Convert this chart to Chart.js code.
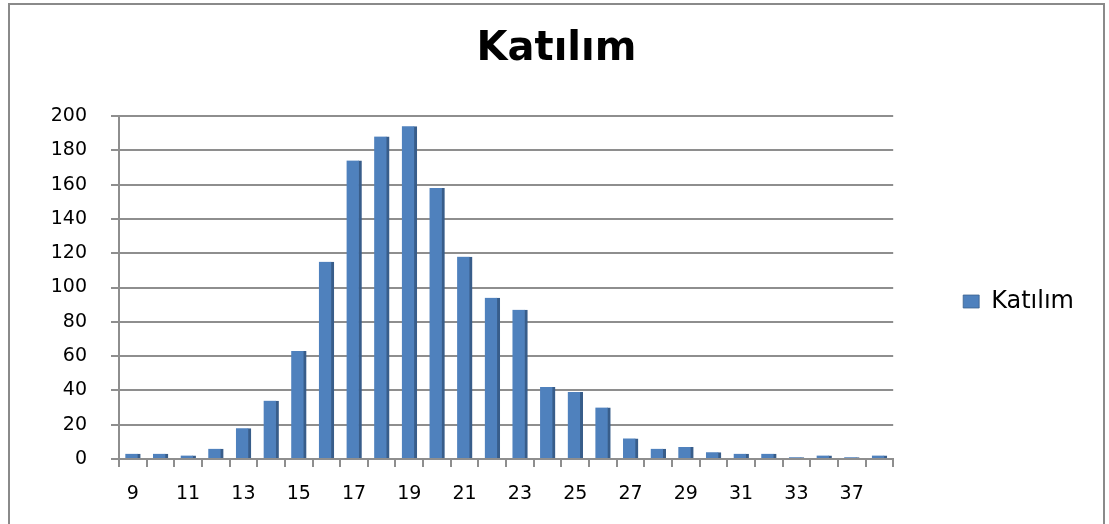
<!DOCTYPE html>
<html>
<head>
<meta charset="utf-8">
<title>Katılım</title>
<script src="https://cdn.jsdelivr.net/npm/chart.js@4/dist/chart.umd.min.js"></script>
<style>
  html, body { margin: 0; padding: 0; background: #fff; overflow: hidden; }
  #frame { position: absolute; left: 8px; top: 3px; width: 1093px; height: 530px; border: 2px solid #8a8a8a; }
  #chart { display: block; }
</style>
</head>
<body>
<div id="frame"><canvas id="chart" width="1093" height="519"></canvas></div>
<script>
// categories (only every other one is labelled on the axis)
const categories = ['9', '10', '11', '12', '13', '14', '15', '16', '17', '18', '19', '20', '21', '22',
  '23', '24', '25', '26', '27', '28', '29', '30', '31', '32', '33', '35', '37', '38'];
const katilim = [3, 3, 2, 6, 18, 34, 63, 115, 174, 188, 194, 158, 118, 94,
  87, 42, 39, 30, 12, 6, 7, 4, 3, 3, 1, 2, 1, 2];
const yTicks = [0, 20, 40, 60, 80, 100, 120, 140, 160, 180, 200];

const gridGrey = '#8e8e8e';
const font = 'DejaVu Sans';

new Chart(document.getElementById('chart'), {
  type: 'bar',
  data: {
    labels: categories,
    datasets: [{
      label: 'Katılım', data: katilim,
      backgroundColor: '#4f81bd', borderColor: '#385d8a',
      borderWidth: { top: 0, left: 0, bottom: 0, right: 3 },
      barThickness: 15
    }]
  },
  options: {
    responsive: false, animation: false,
    layout: { padding: { left: 19, right: 19, top: 0, bottom: 0 } },
    plugins: {
      title: { display: true, text: 'Katılım', color: '#000', font: { family: font, size: 40, weight: 'bold' }, padding: { top: 21, bottom: 42 } },
      legend: {
        position: 'right', fullSize: false,
        title: { display: true, text: '', font: { size: 10 }, padding: 8 },
        labels: { color: '#000', font: { family: font, size: 24 }, boxWidth: 16, boxHeight: 13, padding: 40 }
      },
      tooltip: { enabled: false }
    },
    scales: {
      x: {
        grid: { drawOnChartArea: false, drawTicks: true, tickLength: 8, color: gridGrey, lineWidth: 2, offset: true },
        border: { color: gridGrey, width: 2 },
        ticks: {
          autoSkip: false, maxRotation: 0, padding: 16, color: '#000', font: { family: font, size: 19 },
          callback: function (v, i) { return i % 2 === 0 ? this.getLabelForValue(v) : ''; }
        },
        afterFit: s => { s.height = 65; }
      },
      y: {
        min: 0, max: 200,
        afterBuildTicks: s => { s.ticks = yTicks.map(v => ({ value: v })); },
        grid: { color: gridGrey, lineWidth: 2, tickLength: 8 },
        border: { color: gridGrey, width: 2 },
        ticks: { padding: 24, color: '#000', font: { family: font, size: 19 } },
        afterFit: s => { s.width = 90; }
      },
      y2: {
        position: 'right', display: true,
        grid: { display: false }, border: { display: false }, ticks: { display: false },
        afterFit: s => { s.width = 30; }
      }
    }
  }
});
</script>
</body>
</html>
